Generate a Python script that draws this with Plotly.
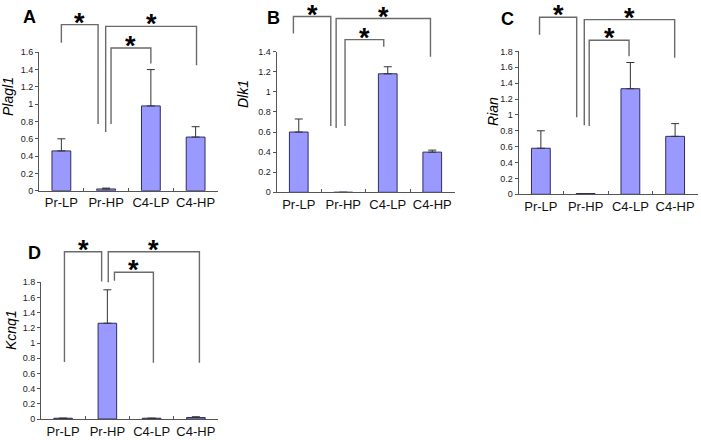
import plotly.graph_objects as go

# ---------------- data ----------------
categories = ["Pr-LP", "Pr-HP", "C4-LP", "C4-HP"]
genes = ["Plagl1", "Dlk1", "Rian", "Kcnq1"]
panel_letters = ["A", "B", "C", "D"]

plagl1_mean = [0.46, 0.02, 0.98, 0.62]
plagl1_err = [0.14, 0.01, 0.42, 0.12]
dlk1_mean = [0.60, 0.0, 1.18, 0.40]
dlk1_err = [0.13, 0.0, 0.07, 0.02]
rian_mean = [0.58, 0.01, 1.33, 0.73]
rian_err = [0.22, 0.0, 0.33, 0.16]
kcnq1_mean = [0.01, 1.26, 0.01, 0.02]
kcnq1_err = [0.0, 0.44, 0.0, 0.01]

y_max = [1.6, 1.4, 1.8, 1.8]

# significance brackets: [x_left, x_right, y_top, y_left_end, y_right_end] (category index, data units)
brackets_A = [[0.0, 0.82, 1.92, 1.71, 0.77],
              [0.99, 3.02, 1.90, 0.68, 1.45],
              [1.11, 2.00, 1.65, 0.77, 1.47]]
brackets_B = [[-0.12, 0.72, 1.75, 1.58, 0.66],
              [0.84, 2.96, 1.73, 0.64, 1.35],
              [1.04, 1.91, 1.52, 0.66, 1.45]]
brackets_C = [[-0.03, 0.80, 2.23, 2.01, 0.97],
              [0.97, 2.99, 2.20, 0.87, 1.72],
              [1.08, 1.97, 1.94, 0.86, 1.74]]
brackets_D = [[0.03, 0.87, 2.20, 0.75, 1.81],
              [1.02, 3.08, 2.20, 1.80, 0.74],
              [1.16, 2.04, 1.93, 1.82, 0.74]]

means = [plagl1_mean, dlk1_mean, rian_mean, kcnq1_mean]
errs = [plagl1_err, dlk1_err, rian_err, kcnq1_err]
brackets = [brackets_A, brackets_B, brackets_C, brackets_D]

# ---------------- layout geometry ----------------
W, H = 701, 440
x_domains = [[39 / W, 218 / W], [276.5 / W, 454.5 / W], [518.5 / W, 697.5 / W], [41 / W, 218 / W]]
y_domains = [[1 - 190.7 / H, 1 - 52.3 / H], [1 - 192.3 / H, 1 - 51.7 / H],
             [1 - 194.3 / H, 1 - 51.4 / H], [1 - 419 / H, 1 - 282.2 / H]]
letter_pos = [(29, 17), (273, 18), (507, 19.5), (34, 253)]
ytitle_pos = [(8, 97), (243, 94), (493, 112), (11, 330)]

FONT = "Arial, Liberation Sans, sans-serif"
BAR_FILL = "#9999ff"
BAR_LINE = "#2e2e5e"
BRACKET = "#6a6a6a"

fig = go.Figure()
shapes = []
annotations = []

for i in range(4):
    ax = "" if i == 0 else str(i + 1)
    fig.add_trace(go.Bar(
        x=categories, y=means[i],
        xaxis="x" + ax, yaxis="y" + ax,
        marker=dict(color=BAR_FILL, line=dict(color=BAR_LINE, width=1)),
        error_y=dict(type="data", array=errs[i], symmetric=False, arrayminus=[0] * 4,
                     color="#333333", thickness=1, width=4),
        showlegend=False,
    ))
    fig.update_layout(**{
        "xaxis" + ax: dict(domain=x_domains[i], anchor="y" + ax, type="category",
                           range=[-0.5, 3.5], showline=True, linecolor="#555555", linewidth=1,
                           ticks="inside", tickson="boundaries", ticklen=3, tickcolor="#555555",
                           showgrid=False, zeroline=False, fixedrange=True, automargin=False,
                           tickangle=0,
                           tickfont=dict(family=FONT, size=13, color="#111111")),
        "yaxis" + ax: dict(domain=y_domains[i], anchor="x" + ax, range=[0, y_max[i]],
                           dtick=0.2, tick0=0, showline=True, linecolor="#555555", linewidth=1,
                           ticks="outside", ticklen=3, tickcolor="#555555",
                           showgrid=False, zeroline=False, fixedrange=True, automargin=False,
                           tickfont=dict(family=FONT, size=9, color="#222222")),
    })

    xd, yd = x_domains[i], y_domains[i]

    def px(v, xd=xd):
        return xd[0] + (v + 0.5) / 4 * (xd[1] - xd[0])

    def py(v, yd=yd, ym=y_max[i]):
        return yd[0] + v / ym * (yd[1] - yd[0])

    for (xl, xr, yt, yl, yr) in brackets[i]:
        path = "M {:.5f},{:.5f} L {:.5f},{:.5f} L {:.5f},{:.5f} L {:.5f},{:.5f}".format(
            px(xl), py(yl), px(xl), py(yt), px(xr), py(yt), px(xr), py(yr))
        shapes.append(dict(type="path", path=path, xref="paper", yref="paper",
                           line=dict(color=BRACKET, width=1.4)))
        annotations.append(dict(text="<b>*</b>", x=px((xl + xr) / 2), y=py(yt),
                                xref="paper", yref="paper", xanchor="center", yanchor="middle",
                                yshift=2, showarrow=False,
                                font=dict(family=FONT, size=27, color="#000000")))

    lx, ly = letter_pos[i]
    annotations.append(dict(text="<b>" + panel_letters[i] + "</b>", x=lx / W, y=1 - ly / H,
                            xref="paper", yref="paper", xanchor="center", yanchor="middle",
                            showarrow=False, font=dict(family=FONT, size=18, color="#000000")))
    tx, ty = ytitle_pos[i]
    annotations.append(dict(text="<i>" + genes[i] + "</i>", x=tx / W, y=1 - ty / H,
                            xref="paper", yref="paper", xanchor="center", yanchor="middle",
                            textangle=-90, showarrow=False,
                            font=dict(family=FONT, size=14, color="#000000")))

fig.update_layout(
    width=W, height=H,
    margin=dict(l=0, r=0, t=0, b=0, autoexpand=False),
    paper_bgcolor="white", plot_bgcolor="white",
    bargap=0.58,
    shapes=shapes, annotations=annotations,
    font=dict(family=FONT),
)

fig.write_html("out.html", config={"displayModeBar": False},
               post_script="document.body.style.margin='0';document.body.style.overflow='hidden';")
